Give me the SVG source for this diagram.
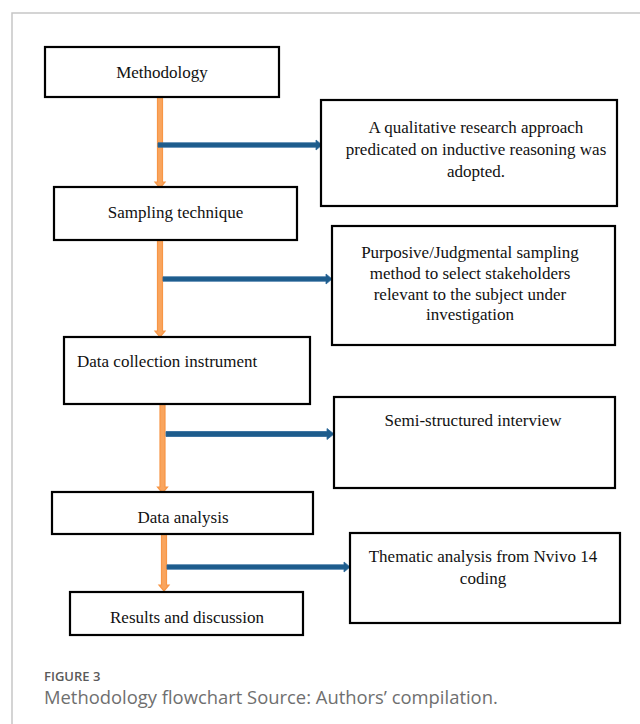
<svg xmlns="http://www.w3.org/2000/svg" width="640" height="724" viewBox="0 0 640 724">
<style>
.frame{fill:none;stroke:#c6c6c6;stroke-width:1.5}
.box{fill:#ffffff;stroke:#000000;stroke-width:2.2}
.t{font-family:"Liberation Serif","Times New Roman",serif;font-size:17px;fill:#111111}
.c{text-anchor:middle}
.oa{fill:#f9a55e;stroke:#f79646;stroke-width:1.2}
.ba{fill:#1d5c8c;stroke:#2a679a;stroke-width:0.8}
.fig{font-family:"Open Sans","Liberation Sans",sans-serif;font-size:13px;fill:#5a5a5a;font-weight:600}
.cap{font-family:"Open Sans","Liberation Sans",sans-serif;font-size:18.4px;fill:#6f6f6f}
</style>
<rect width="640" height="724" fill="#ffffff"/>
<path class="frame" d="M12,724 V13 H640"/>

<g id="connectors">
  <path class="oa" d="M157.5,97 H162.5 V182 H165 L160,188 L155,182 H157.5 Z"/>
  <path class="oa" d="M157.5,236 H162.5 V331 H165 L160,337 L155,331 H157.5 Z"/>
  <path class="oa" d="M160,403 H165 V487 H167.5 L162.5,493 L157.5,487 H160 Z"/>
  <path class="oa" d="M161.5,533 H166.5 V585 H169 L164,591 L159,585 H161.5 Z"/>
  <path class="ba" d="M158,142.8 H316 V140 L322,145 L316,150 V147.2 H158 Z"/>
  <path class="ba" d="M163,276.8 H326 V274 L332,279 L326,284 V281.2 H163 Z"/>
  <path class="ba" d="M166,431.5 H327 V428.5 L334,434 L327,439.5 V436.5 H166 Z"/>
  <path class="ba" d="M167,564.8 H344 V562 L350,567 L344,572 V569.2 H167 Z"/>
</g>

<g id="methodology">
  <rect class="box" x="45" y="47" width="234" height="50"/>
  <text class="t c" x="162" y="78">Methodology</text>
</g>
<g id="sampling-technique">
  <rect class="box" x="54" y="187" width="243" height="53"/>
  <text class="t c" x="175.5" y="218">Sampling technique</text>
</g>
<g id="data-collection-instrument">
  <rect class="box" x="64" y="337" width="246" height="67"/>
  <text class="t" x="77" y="367">Data collection instrument</text>
</g>
<g id="data-analysis">
  <rect class="box" x="52" y="492" width="261" height="42"/>
  <text class="t c" x="183" y="523">Data analysis</text>
</g>
<g id="results-and-discussion">
  <rect class="box" x="70" y="592" width="233" height="43"/>
  <text class="t c" x="187" y="623">Results and discussion</text>
</g>

<g id="qualitative-approach">
  <rect class="box" x="321" y="100" width="296" height="106"/>
  <text class="t c" x="476" y="133">A qualitative research approach</text>
  <text class="t c" x="476" y="155">predicated on inductive reasoning was</text>
  <text class="t c" x="476" y="177">adopted.</text>
</g>
<g id="purposive-sampling">
  <rect class="box" x="332" y="226" width="283" height="119"/>
  <text class="t c" x="470" y="258">Purposive/Judgmental sampling</text>
  <text class="t c" x="470" y="279">method to select stakeholders</text>
  <text class="t c" x="470" y="300">relevant to the subject under</text>
  <text class="t c" x="470" y="320">investigation</text>
</g>
<g id="semi-structured-interview">
  <rect class="box" x="334" y="397" width="281" height="91"/>
  <text class="t c" x="473" y="426">Semi-structured interview</text>
</g>
<g id="thematic-analysis">
  <rect class="box" x="350" y="533" width="270" height="90"/>
  <text class="t c" x="483" y="562">Thematic analysis from Nvivo 14</text>
  <text class="t c" x="483" y="584">coding</text>
</g>

<text class="fig" x="44" y="681">FIGURE 3</text>
<text class="cap" x="44" y="704">Methodology flowchart Source: Authors’ compilation.</text>
</svg>
